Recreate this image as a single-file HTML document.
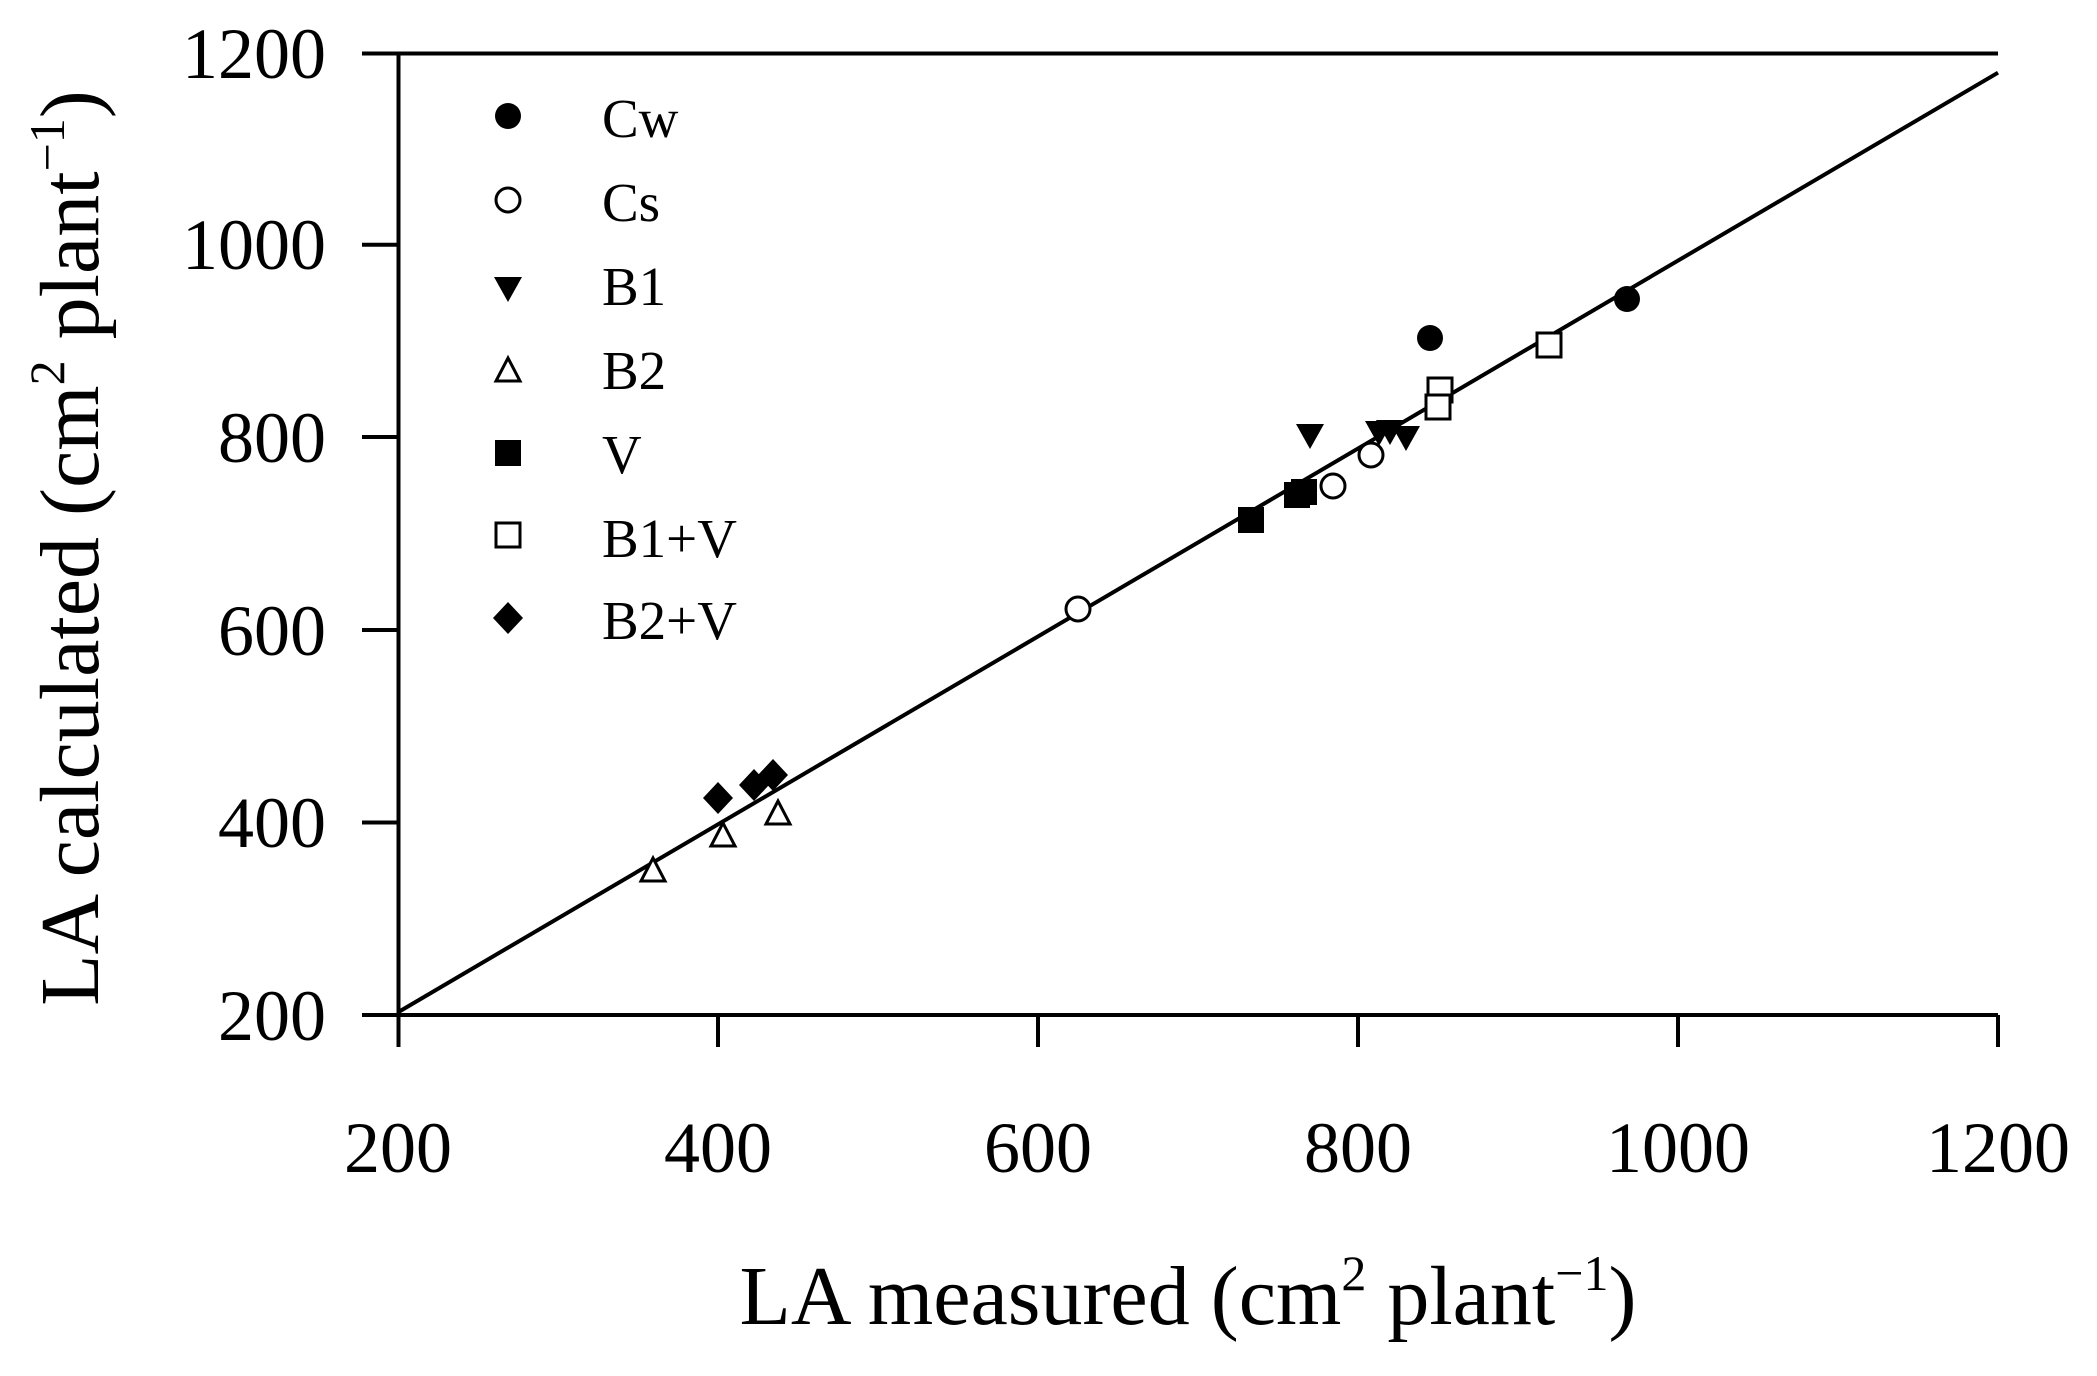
<!DOCTYPE html>
<html><head><meta charset="utf-8"><style>html,body{margin:0;padding:0;background:#fff}svg{display:block}</style></head>
<body>
<svg width="2097" height="1376" viewBox="0 0 2097 1376" xmlns="http://www.w3.org/2000/svg" font-family="Liberation Serif, serif">
<defs>
<circle id="cf" r="13" fill="#000"/>
<circle id="co" r="12" fill="#fff" stroke="#000" stroke-width="3"/>
<path id="td" d="M-14,-11 L14,-11 L0,14 Z" fill="#000"/>
<path id="tu" d="M-12,11 L12,11 L0,-12 Z" fill="#fff" stroke="#000" stroke-width="3"/>
<rect id="sf" x="-13" y="-13" width="26" height="26" fill="#000"/>
<rect id="so" x="-12" y="-12" width="24" height="24" fill="#fff" stroke="#000" stroke-width="3"/>
<path id="df" d="M0,-16 L15,0 L0,16 L-15,0 Z" fill="#000"/>
</defs>
<g stroke="#000" stroke-width="4" fill="none">
<line x1="362" y1="53.5" x2="1998" y2="53.5"/>
<line x1="362" y1="1015" x2="1998" y2="1015"/>
<line x1="398.5" y1="53.5" x2="398.5" y2="1047"/>
<line x1="362" y1="244.7" x2="398.5" y2="244.7"/>
<line x1="362" y1="437" x2="398.5" y2="437"/>
<line x1="362" y1="630" x2="398.5" y2="630"/>
<line x1="362" y1="822.5" x2="398.5" y2="822.5"/>
<line x1="718" y1="1015" x2="718" y2="1047"/>
<line x1="1038" y1="1015" x2="1038" y2="1047"/>
<line x1="1358" y1="1015" x2="1358" y2="1047"/>
<line x1="1678" y1="1015" x2="1678" y2="1047"/>
<line x1="1998" y1="1015" x2="1998" y2="1047"/>
<line x1="398.5" y1="1012" x2="1998" y2="72.7" stroke-width="4"/>
</g>
<g font-size="72" text-anchor="end">
<text x="326" y="78">1200</text>
<text x="326" y="269">1000</text>
<text x="326" y="462">800</text>
<text x="326" y="655">600</text>
<text x="326" y="847">400</text>
<text x="326" y="1040">200</text>
</g>
<g font-size="72" text-anchor="middle">
<text x="398" y="1172">200</text>
<text x="718" y="1172">400</text>
<text x="1038" y="1172">600</text>
<text x="1358" y="1172">800</text>
<text x="1678" y="1172">1000</text>
<text x="1998" y="1172">1200</text>
</g>
<text x="1188" y="1324" font-size="84" text-anchor="middle">LA measured (cm<tspan font-size="50" dy="-34">2</tspan><tspan dy="34"> plant</tspan><tspan font-size="50" dy="-34">−1</tspan><tspan dy="34">)</tspan></text>
<text transform="translate(98,548) rotate(-90)" font-size="84" text-anchor="middle">LA calculated (cm<tspan font-size="50" dy="-34">2</tspan><tspan dy="34"> plant</tspan><tspan font-size="50" dy="-34">−1</tspan><tspan dy="34">)</tspan></text>
<g font-size="55">
<use href="#cf" x="508" y="116"/><text x="602" y="137">Cw</text>
<use href="#co" x="508" y="200"/><text x="602" y="221">Cs</text>
<use href="#td" x="508" y="288"/><text x="602" y="305">B1</text>
<use href="#tu" x="508" y="370"/><text x="602" y="389">B2</text>
<use href="#sf" x="508" y="453"/><text x="602" y="473">V</text>
<use href="#so" x="508" y="535"/><text x="602" y="557">B1+V</text>
<use href="#df" x="508" y="618"/><text x="602" y="639">B2+V</text>
</g>
<use href="#cf" x="1430" y="338"/><use href="#cf" x="1627" y="299"/>
<use href="#co" x="1078" y="609"/><use href="#co" x="1333" y="486"/><use href="#co" x="1371" y="455"/>
<use href="#td" x="1310" y="435"/><use href="#td" x="1379" y="432"/><use href="#td" x="1390" y="431"/><use href="#td" x="1406" y="437"/>
<use href="#tu" x="653" y="870"/><use href="#tu" x="723" y="835"/><use href="#tu" x="778" y="813"/>
<use href="#sf" x="1251" y="520"/><use href="#sf" x="1297" y="495"/><use href="#sf" x="1304" y="492"/>
<use href="#so" x="1440" y="390"/><use href="#so" x="1438" y="407"/><use href="#so" x="1549" y="345"/>
<use href="#df" x="718" y="798"/><use href="#df" x="754" y="785"/><use href="#df" x="773" y="775"/>
</svg>
</body></html>
